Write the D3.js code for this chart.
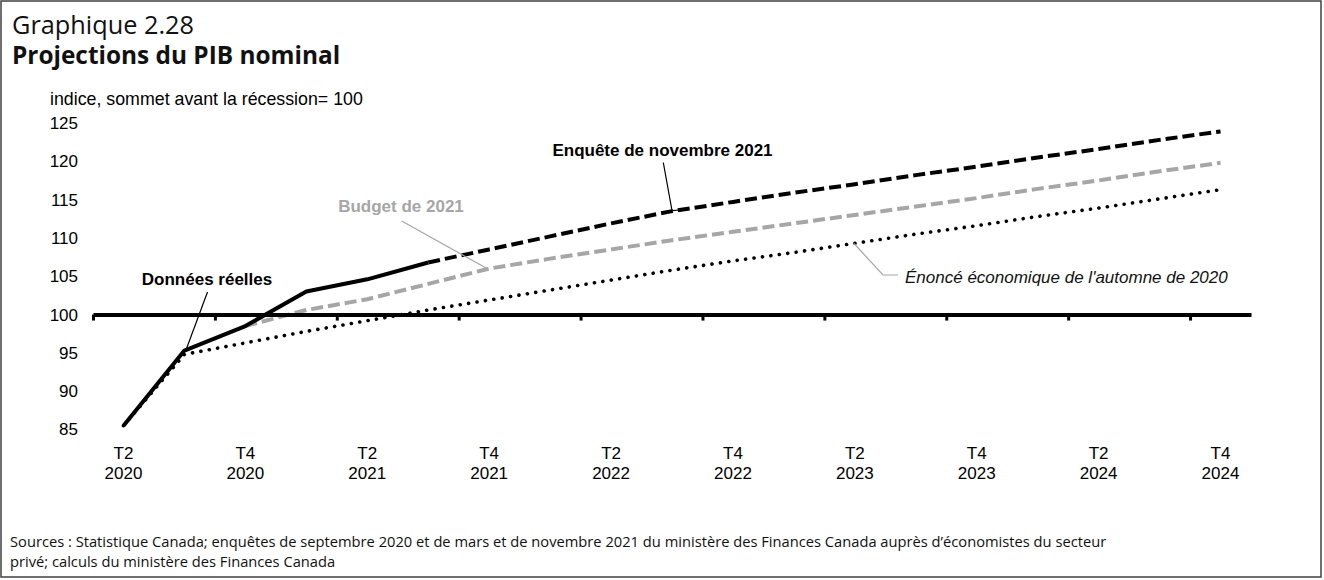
<!DOCTYPE html>
<html>
<head>
<meta charset="utf-8">
<script src="https://cdn.jsdelivr.net/npm/d3@7"></script>
<style>
  body { margin: 0; background: #fff; }
  text { font-family: "Liberation Sans", Arial, sans-serif; }
  .seg { font-family: "Open Sans", "Noto Sans", sans-serif; }
</style>
</head>
<body>
<div id="chart"></div>
<script>
// quarters T2 2020 .. T4 2024
var quarters = ["T2 2020","T3 2020","T4 2020","T1 2021","T2 2021","T3 2021","T4 2021",
  "T1 2022","T2 2022","T3 2022","T4 2022","T1 2023","T2 2023","T3 2023","T4 2023",
  "T1 2024","T2 2024","T3 2024","T4 2024"];

// index values, pre-recession peak = 100 (null = no value)
var actual = [85.5, 95.3, 98.5, 103.0, 104.6, 106.8];
var novSurvey2021 = [null,null,null,null,null,106.8,108.5,110.2,111.9,113.5,114.7,115.9,117.0,118.2,119.3,120.5,121.6,122.8,123.9];
var budget2021 = [null,null,98.5,100.6,102.0,104.0,106.0,107.3,108.5,109.7,110.8,111.9,113.0,114.1,115.2,116.4,117.5,118.7,119.8];
var fallStatement2020 = [85.5,94.8,96.3,97.8,99.2,100.6,101.9,103.2,104.5,105.8,107.0,108.1,109.3,110.5,111.6,112.8,113.9,115.1,116.3];

var yTicks = [85, 90, 95, 100, 105, 110, 115, 120, 125];

var W = 1324, H = 580;
var svg = d3.select("#chart").append("svg")
  .attr("width", W).attr("height", H);

// frame
svg.append("rect")
  .attr("x", 1).attr("y", 1)
  .attr("width", 1320).attr("height", 576)
  .attr("fill", "none").attr("stroke", "#404040").attr("stroke-width", 1.5);

svg.append("text").attr("class", "seg")
  .attr("x", 12).attr("y", 34)
  .attr("font-size", 25.3).attr("fill", "#111")
  .text("Graphique 2.28");
svg.append("text").attr("class", "seg")
  .attr("x", 12).attr("y", 64)
  .attr("font-size", 24.4).attr("font-weight", "bold").attr("fill", "#111")
  .text("Projections du PIB nominal");

svg.append("text")
  .attr("x", 50).attr("y", 105)
  .attr("font-size", 17.8)
  .text("indice, sommet avant la récession= 100");

// scales
var x = d3.scaleBand().domain(quarters).range([93, 1251]).padding(0);
var xi = d3.scaleLinear().domain([0, quarters.length]).range([93, 1251]);
var y = d3.scaleLinear().domain([85, 125]).range([429.5, 123]);

function cx(i) { return x(quarters[i]) + x.bandwidth() / 2; }

// y tick labels
var yAxis = svg.append("g")
  .attr("transform", "translate(78,0)")
  .call(d3.axisLeft(y).tickValues(yTicks).tickSize(0).tickPadding(0));
yAxis.select(".domain").remove();
yAxis.selectAll("text")
  .attr("font-size", 17).attr("fill", "#000")
  .style("font-family", "'Liberation Sans', Arial, sans-serif");

// lines
function lineFor(arr) {
  return d3.line()
    .defined(function(d) { return d != null; })
    .x(function(d, i) { return cx(i); })
    .y(function(d) { return y(d); })(arr);
}

svg.append("path")
  .attr("d", lineFor(fallStatement2020))
  .attr("fill", "none").attr("stroke", "#000")
  .attr("stroke-width", 3.6).attr("stroke-linecap", "round")
  .attr("stroke-dasharray", "0.1,8.4");

svg.append("path")
  .attr("d", lineFor(budget2021))
  .attr("fill", "none").attr("stroke", "#a6a6a6")
  .attr("stroke-width", 4).attr("stroke-dasharray", "12,5");

svg.append("path")
  .attr("d", lineFor(novSurvey2021))
  .attr("fill", "none").attr("stroke", "#000")
  .attr("stroke-width", 4).attr("stroke-dasharray", "12,5");

svg.append("path")
  .attr("d", lineFor(actual))
  .attr("fill", "none").attr("stroke", "#000")
  .attr("stroke-width", 4).attr("stroke-linejoin", "round");

// x axis at 100
var tickIdx = d3.range(0, quarters.length, 2);
var xAxis = svg.append("g")
  .attr("transform", "translate(0," + y(100) + ")")
  .call(d3.axisBottom(xi).tickValues(tickIdx).tickFormat("").tickSize(6).tickSizeOuter(0));
xAxis.select(".domain").attr("stroke", "#000").attr("stroke-width", 4);
xAxis.selectAll(".tick line").attr("stroke", "#000").attr("stroke-width", 3);

// x labels, every second quarter
var labels = svg.append("g");
tickIdx.forEach(function(i) {
  var parts = quarters[i].split(" ");
  var t = labels.append("text")
    .attr("x", cx(i)).attr("y", 459)
    .attr("text-anchor", "middle").attr("font-size", 17);
  t.append("tspan").attr("x", cx(i)).text(parts[0]);
  t.append("tspan").attr("x", cx(i)).attr("dy", 20).text(parts[1]);
});

// annotations
function leader(pts, color) {
  svg.append("path")
    .attr("d", d3.line()(pts))
    .attr("fill", "none").attr("stroke", color).attr("stroke-width", 1.2);
}
svg.append("text").attr("x", 207).attr("y", 285)
  .attr("text-anchor", "middle").attr("font-size", 17).attr("font-weight", "bold")
  .text("Données réelles");
leader([[207.5, 292], [186, 350]], "#000");

svg.append("text").attr("x", 401).attr("y", 212)
  .attr("text-anchor", "middle").attr("font-size", 17).attr("font-weight", "bold")
  .attr("fill", "#a6a6a6")
  .text("Budget de 2021");
leader([[401.7, 221], [488.3, 269.3]], "#a6a6a6");

svg.append("text").attr("x", 662.5).attr("y", 156)
  .attr("text-anchor", "middle").attr("font-size", 17).attr("font-weight", "bold")
  .text("Enquête de novembre 2021");
leader([[663.3, 162.5], [672, 210.5], [680, 210]], "#000");

svg.append("text").attr("x", 905).attr("y", 283)
  .attr("font-size", 17).attr("font-style", "italic").attr("fill", "#111")
  .text("Énoncé économique de l'automne de 2020");
leader([[854, 243.5], [883, 275], [898, 275]], "#a6a6a6");

// sources
var src = svg.append("text").attr("class", "seg")
  .attr("x", 10).attr("y", 547).attr("font-size", 14.7).attr("fill", "#111");
src.append("tspan").attr("x", 10)
  .text("Sources : Statistique Canada; enquêtes de septembre 2020 et de mars et de novembre 2021 du ministère des Finances Canada auprès d’économistes du secteur");
src.append("tspan").attr("x", 10).attr("dy", 20)
  .text("privé; calculs du ministère des Finances Canada");
</script>
</body>
</html>
